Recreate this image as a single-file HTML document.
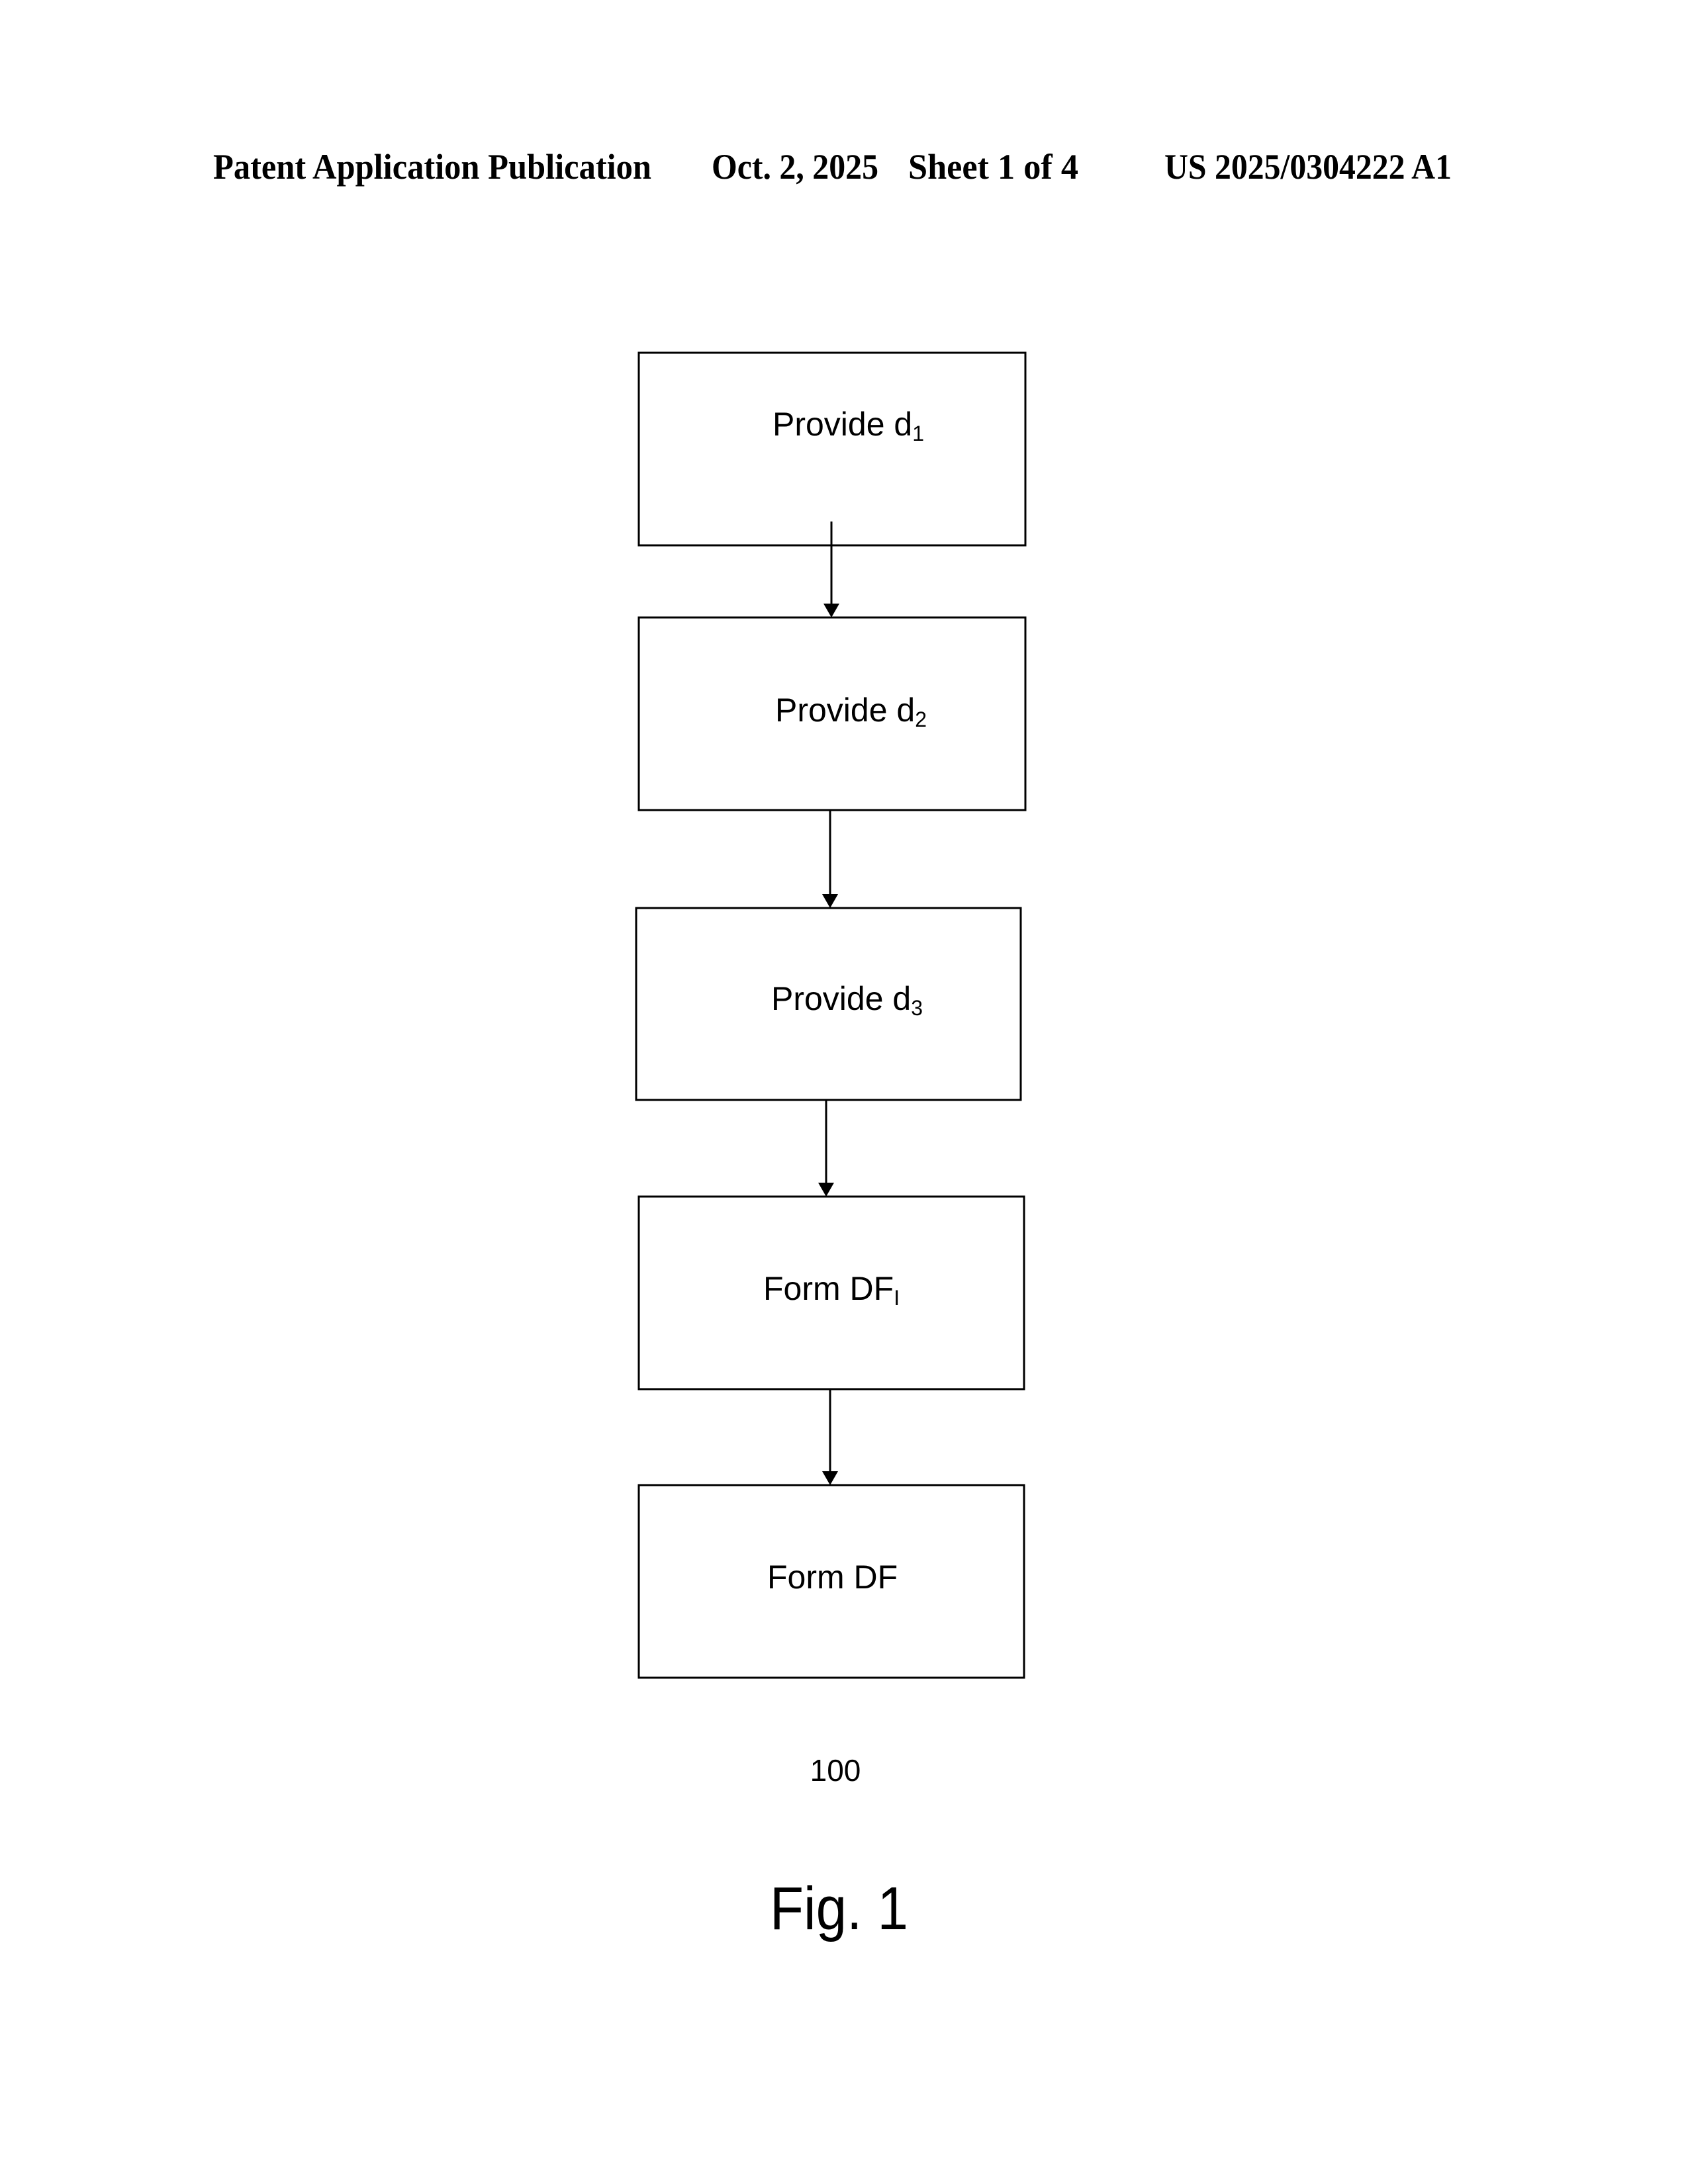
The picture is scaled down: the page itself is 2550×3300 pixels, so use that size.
<!DOCTYPE html>
<html><head><style>html,body{margin:0;padding:0;background:#fff}svg{display:block}</style></head>
<body>
<svg width="2550" height="3300" viewBox="0 0 2550 3300" xmlns="http://www.w3.org/2000/svg">
<rect width="2550" height="3300" fill="#fff"/>
<g font-family="Liberation Serif, serif" font-weight="bold" font-size="54" fill="#000">
<text x="322" y="270" textLength="662" lengthAdjust="spacingAndGlyphs">Patent Application Publication</text>
<text x="1075" y="270" textLength="252" lengthAdjust="spacingAndGlyphs">Oct. 2, 2025</text>
<text x="1372" y="270" textLength="257" lengthAdjust="spacingAndGlyphs">Sheet 1 of 4</text>
<text x="1759" y="270" textLength="434" lengthAdjust="spacingAndGlyphs">US 2025/0304222 A1</text>
</g>
<g fill="none" stroke="#000" stroke-width="3">
<rect x="965" y="533" width="584" height="291"/>
<rect x="965" y="933" width="584" height="291"/>
<rect x="961" y="1372" width="581" height="290"/>
<rect x="965" y="1808" width="582" height="291"/>
<rect x="965" y="2244" width="582" height="291"/>
<line x1="1256" y1="788" x2="1256" y2="915"/>
<line x1="1254" y1="1224" x2="1254" y2="1354"/>
<line x1="1248" y1="1662" x2="1248" y2="1790"/>
<line x1="1254" y1="2099" x2="1254" y2="2226"/>
</g>
<g fill="#000">
<polygon points="1244,912 1268,912 1256,933"/>
<polygon points="1242,1351 1266,1351 1254,1372"/>
<polygon points="1236,1787 1260,1787 1248,1808"/>
<polygon points="1242,2223 1266,2223 1254,2244"/>
</g>
<g font-family="Liberation Sans, sans-serif" font-size="50" fill="#000">
<text x="1167" y="658">Provide d<tspan font-size="32" dy="8">1</tspan></text>
<text x="1171" y="1090">Provide d<tspan font-size="32" dy="8">2</tspan></text>
<text x="1165" y="1526">Provide d<tspan font-size="32" dy="8">3</tspan></text>
<text x="1153" y="1964">Form DF<tspan font-size="32" dy="8">I</tspan></text>
<text x="1159" y="2400">Form DF</text>
<text x="1262" y="2691" font-size="46" text-anchor="middle">100</text>
<text x="1163" y="2915" font-size="92" textLength="209" lengthAdjust="spacingAndGlyphs">Fig. 1</text>
</g>
</svg>
</body></html>
